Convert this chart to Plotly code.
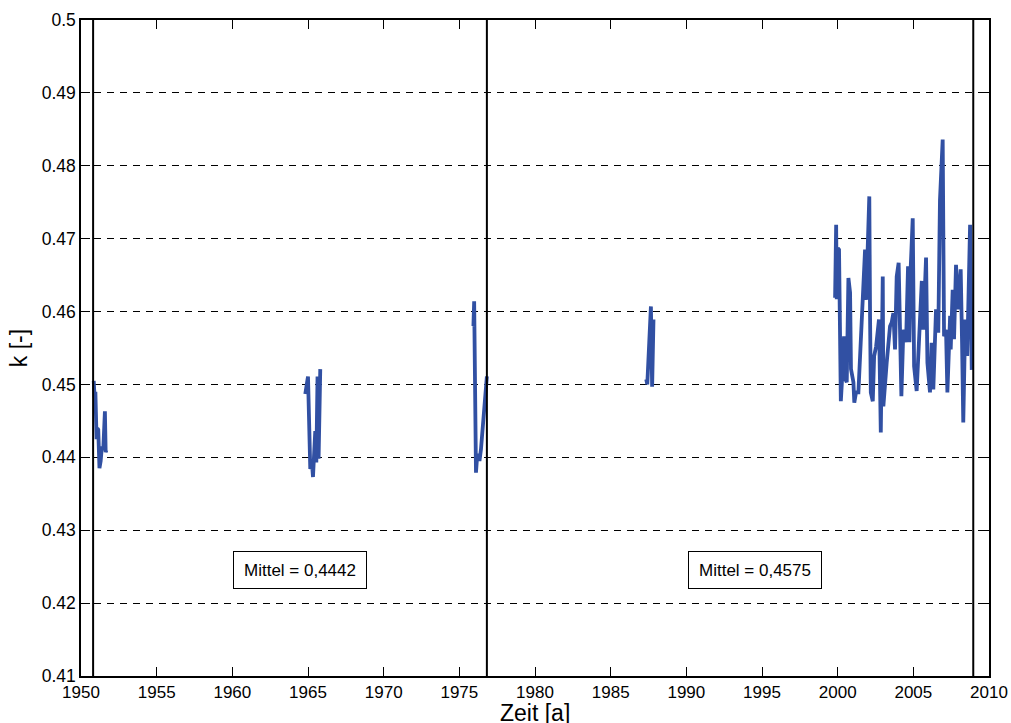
import plotly.graph_objects as go

# Measured k values per measurement campaign (decimal year, k)
years_1951 = [1950.84, 1950.90, 1950.95, 1951.03, 1951.08, 1951.14, 1951.22,
              1951.30, 1951.38, 1951.47, 1951.58, 1951.63, 1951.68]
k_1951 = [0.4505, 0.4482, 0.4490, 0.4425, 0.4440, 0.4438, 0.4385,
          0.4395, 0.4415, 0.4410, 0.4463, 0.4407, 0.4410]

years_1965 = [1964.82, 1965.00, 1965.15, 1965.26, 1965.33, 1965.42, 1965.48,
              1965.55, 1965.63, 1965.70, 1965.81]
k_1965 = [0.4487, 0.4511, 0.4384, 0.4393, 0.4373, 0.4411, 0.4436,
          0.4393, 0.4511, 0.4398, 0.4521]

years_1976 = [1975.93, 1975.98, 1976.10, 1976.16, 1976.25, 1976.33, 1976.43,
              1976.51, 1976.82]
k_1976 = [0.4580, 0.4614, 0.4379, 0.4397, 0.4405, 0.4395, 0.4411,
          0.4430, 0.4511]

years_1987 = [1987.35, 1987.42, 1987.66, 1987.74, 1987.83]
k_1987 = [0.4507, 0.4500, 0.4607, 0.4497, 0.4589]

years_2000 = [1999.83, 1999.90, 1999.94, 2000.01, 2000.09, 2000.21, 2000.29,
              2000.42, 2000.51, 2000.60, 2000.71, 2000.82, 2000.88, 2001.04,
              2001.10, 2001.21, 2001.37, 2001.81, 2001.88, 2001.96, 2002.09,
              2002.14, 2002.19, 2002.32, 2002.41, 2002.54, 2002.62, 2002.73,
              2002.85, 2002.93, 2002.98, 2003.02, 2003.15, 2003.24, 2003.46,
              2003.57, 2003.68, 2003.79, 2003.90, 2004.03, 2004.21, 2004.34,
              2004.52, 2004.65, 2004.74, 2004.83, 2004.96, 2005.05, 2005.22,
              2005.40, 2005.56, 2005.66, 2005.84, 2005.93, 2006.10, 2006.21,
              2006.32, 2006.50, 2006.65, 2006.76, 2006.94, 2007.03, 2007.16,
              2007.25, 2007.43, 2007.47, 2007.60, 2007.69, 2007.82, 2007.97,
              2008.13, 2008.22, 2008.30, 2008.43, 2008.56, 2008.75, 2008.86]
k_2000 = [0.4619, 0.4719, 0.4617, 0.4687, 0.4685, 0.4477, 0.4507,
          0.4566, 0.4507, 0.4503, 0.4646, 0.4626, 0.4521, 0.4503,
          0.4475, 0.4489, 0.4489, 0.4685, 0.4616, 0.4685, 0.4758,
          0.4594, 0.4489, 0.4477, 0.4539, 0.4552, 0.4575, 0.4589,
          0.4434, 0.4539, 0.4648, 0.4470, 0.4511, 0.4530, 0.4580,
          0.4585, 0.4598, 0.4548, 0.4648, 0.4667, 0.4484, 0.4575,
          0.4558, 0.4662, 0.4558, 0.4662, 0.4728, 0.4525, 0.4491,
          0.4575, 0.4642, 0.4575, 0.4674, 0.4530, 0.4489, 0.4557,
          0.4493, 0.4603, 0.4571, 0.4753, 0.4836, 0.4566, 0.4575,
          0.4489, 0.4594, 0.4548, 0.4630, 0.4562, 0.4664, 0.4603,
          0.4658, 0.4557, 0.4448, 0.4589, 0.4539, 0.4719, 0.4520]

# Period boundaries and period means
period_bounds = [1950.8, 1976.82, 2008.96]
mean_positions = [1964.45, 1994.54]
mean_values = ["0,4442", "0,4575"]

x_ticks = list(range(1950, 2011, 5))
y_ticks = [0.41, 0.42, 0.43, 0.44, 0.45, 0.46, 0.47, 0.48, 0.49, 0.5]
y_tick_text = ["0.41", "0.42", "0.43", "0.44", "0.45", "0.46", "0.47", "0.48", "0.49", "0.5"]

xs, ks = [], []
for yr, kv in [(years_1951, k_1951), (years_1965, k_1965), (years_1976, k_1976),
               (years_1987, k_1987), (years_2000, k_2000)]:
    xs += yr + [None]
    ks += kv + [None]

fig = go.Figure()
fig.add_trace(go.Scatter(
    x=xs, y=ks, mode="lines", connectgaps=False,
    line=dict(color="#3150A3", width=3.8),
    showlegend=False, hoverinfo="skip",
))

for xb in period_bounds:
    fig.add_shape(type="line", xref="x", yref="paper", x0=xb, x1=xb, y0=0, y1=1,
                  line=dict(color="black", width=2))

for xp, mv in zip(mean_positions, mean_values):
    fig.add_annotation(
        x=xp, y=0.42452, xref="x", yref="y", text="Mittel = " + mv,
        showarrow=False, font=dict(size=17, color="black"),
        bordercolor="black", borderwidth=1, borderpad=7, bgcolor="white",
        width=118, height=22,
    )

# x-axis title placed just below the tick labels
fig.add_annotation(
    x=0.5, y=-0.0335, xref="paper", yref="paper", text="Zeit [a]",
    showarrow=False, xanchor="center", yanchor="top",
    font=dict(size=23, color="black"),
)

fig.update_layout(
    width=1011, height=723,
    margin=dict(l=81, r=22, t=20, b=47),
    paper_bgcolor="white", plot_bgcolor="white",
    font=dict(family="Liberation Sans, Arial, sans-serif", color="black"),
    xaxis=dict(
        range=[1950, 2010], tickvals=x_ticks, ticks="inside", ticklen=9,
        tickwidth=1, tickcolor="black", showline=True, linecolor="black",
        linewidth=1.5, mirror="ticks", showgrid=False, zeroline=False,
        tickfont=dict(size=17), automargin=False,
    ),
    yaxis=dict(
        range=[0.41, 0.5], tickvals=y_ticks, ticktext=y_tick_text,
        ticks="inside", ticklen=9, tickwidth=1, tickcolor="black",
        showline=True, linecolor="black", linewidth=1.5, mirror="ticks",
        showgrid=True, gridcolor="black", gridwidth=1, griddash="7px,6px",
        zeroline=False, tickfont=dict(size=17.5),
        title=dict(text="k [-]", font=dict(size=23), standoff=8),
        automargin=False,
    ),
)

fig.write_html("out.html")
